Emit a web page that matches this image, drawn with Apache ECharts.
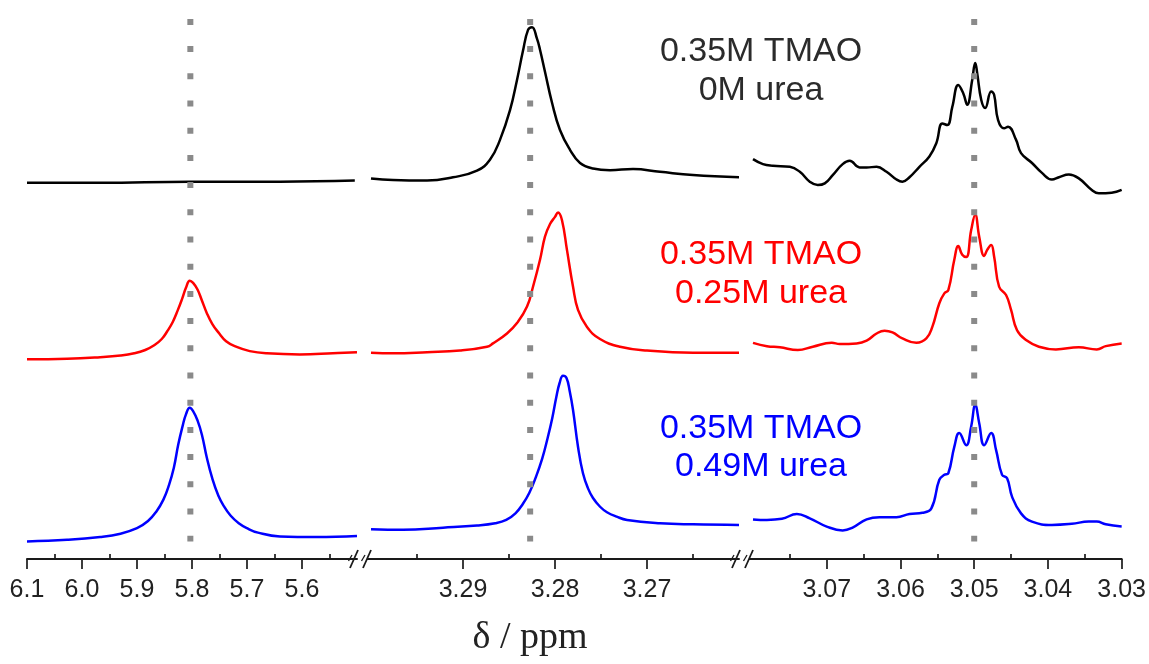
<!DOCTYPE html>
<html>
<head>
<meta charset="utf-8">
<title>TMAO / urea 1H NMR</title>
<script src="https://cdn.jsdelivr.net/npm/echarts@6/dist/echarts.min.js"></script>
<style>
  html, body { margin: 0; padding: 0; background: #ffffff; }
  #chart { width: 1149px; height: 664px; }
</style>
</head>
<body>
<div id="chart"></div>
<script>
// ---- chemical-shift panels (ppm, decreasing to the right) ----
const panelRanges = [[5.5, 6.1], [3.26, 3.30], [3.03, 3.08]];
const majorTicks = [
  [6.1, 6.0, 5.9, 5.8, 5.7, 5.6],
  [3.29, 3.28, 3.27],
  [3.07, 3.06, 3.05, 3.04, 3.03]
];
const minorTicks = [
  [6.05, 5.95, 5.85, 5.75, 5.65, 5.55],
  [3.295, 3.285, 3.275, 3.265],
  [3.075, 3.065, 3.055, 3.045, 3.035]
];
const tickDecimals = [1, 2, 2];
const referenceShifts = [5.803, 3.2827, 3.05];

// ---- spectra: [ppm, stacked intensity] ----
// 0.35M TMAO, 0M urea
const black1 = [[6.1, 68.4], [5.967, 68.4], [5.804, 68.6], [5.64, 68.6], [5.504, 68.8]];
const black2 = [[3.3, 69.2], [3.29761, 68.9], [3.29391, 68.8], [3.29109, 69.4], [3.28848, 70.6], [3.28707, 72.6],
  [3.28598, 76.2], [3.28489, 81.6], [3.28413, 87.1], [3.28348, 92.4], [3.28293, 96.2], [3.2825, 96.7],
  [3.28196, 94.6], [3.28163, 92.6], [3.28109, 88.6], [3.28033, 83.0], [3.27946, 78.0], [3.27837, 74.4],
  [3.27728, 72.0], [3.27587, 71.0], [3.27402, 70.7], [3.27152, 70.9], [3.26859, 70.4], [3.265, 69.8], [3.26, 69.4]];
const black3 = [[3.08, 72.7], [3.07865, 71.8], [3.0773, 71.5], [3.075, 71.3], [3.07365, 70.4], [3.0723, 68.6],
  [3.07122, 68.0], [3.07027, 68.3], [3.06919, 69.8], [3.06784, 71.8], [3.06689, 72.4], [3.06554, 71.2],
  [3.06459, 71.2], [3.06324, 71.3], [3.06189, 70.4], [3.06054, 69.0], [3.05973, 68.6], [3.05878, 69.4],
  [3.05743, 71.3], [3.05608, 73.2], [3.05514, 75.6], [3.05432, 79.2], [3.05365, 78.9], [3.05297, 82.2],
  [3.05216, 86.2], [3.05149, 84.7], [3.05095, 82.6], [3.05027, 87.1], [3.04986, 90.2], [3.04959, 88.3],
  [3.04905, 83.5], [3.04851, 82.0], [3.0477, 85.0], [3.0473, 84.4], [3.04676, 79.8], [3.04595, 78.3],
  [3.04541, 78.6], [3.04432, 76.2], [3.04365, 73.8], [3.04216, 72.0], [3.04081, 70.2], [3.03946, 69.0],
  [3.03851, 69.4], [3.03716, 69.9], [3.03581, 69.2], [3.03405, 67.1], [3.03311, 66.5], [3.03135, 66.6], [3.03, 67.1]];

// 0.35M TMAO, 0.25M urea
const red1 = [[6.1, 36.3], [6.027, 36.4], [5.967, 36.7], [5.93, 37.0], [5.905, 37.4], [5.885, 38.0],
  [5.868, 38.9], [5.855, 40.0], [5.845, 41.4], [5.835, 43.1], [5.826, 45.2], [5.818, 47.3], [5.811, 49.3],
  [5.804, 50.6], [5.798, 50.2], [5.79, 49.0], [5.782, 47.0], [5.773, 44.7], [5.763, 42.7], [5.752, 41.2],
  [5.738, 39.6], [5.72, 38.6], [5.695, 37.8], [5.664, 37.4], [5.604, 37.2], [5.544, 37.4], [5.5, 37.6]];
const red2 = [[3.3, 37.5], [3.29761, 37.4], [3.29391, 37.6], [3.29033, 37.9], [3.28739, 38.6], [3.28674, 39.2],
  [3.28522, 41.0], [3.28413, 42.9], [3.28304, 45.9], [3.28239, 49.5], [3.28163, 54.4], [3.28109, 58.6],
  [3.28054, 60.9], [3.28, 62.2], [3.27967, 63.0], [3.27924, 61.6], [3.2787, 56.2], [3.27804, 49.5],
  [3.2775, 45.3], [3.27652, 42.2], [3.27511, 40.0], [3.27293, 38.6], [3.27, 37.9], [3.265, 37.5], [3.26, 37.5]];
const red3 = [[3.08, 39.3], [3.07811, 38.7], [3.07635, 38.5], [3.07392, 38.0], [3.07189, 38.6], [3.06932, 39.3],
  [3.06824, 39.1], [3.06595, 39.2], [3.06459, 39.7], [3.06324, 41.0], [3.06216, 41.5], [3.06108, 41.2],
  [3.05973, 40.1], [3.05784, 39.3], [3.05649, 40.1], [3.05568, 42.2], [3.05473, 46.5], [3.05405, 48.3],
  [3.05351, 48.9], [3.0527, 54.4], [3.05216, 56.9], [3.05162, 55.3], [3.05108, 54.9], [3.05041, 59.8],
  [3.04986, 62.6], [3.04932, 58.6], [3.04865, 55.1], [3.04824, 56.2], [3.0477, 57.1], [3.0473, 55.0],
  [3.04662, 49.5], [3.04568, 48.0], [3.045, 45.3], [3.04419, 41.6], [3.04297, 39.8], [3.04122, 38.6],
  [3.03892, 38.1], [3.03581, 38.5], [3.03338, 38.1], [3.03216, 38.7], [3.03, 39.2]];

// 0.35M TMAO, 0.49M urea
const blue1 = [[6.1, 3.2], [6.027, 3.5], [5.967, 4.0], [5.93, 4.6], [5.9, 5.6], [5.88, 6.9], [5.865, 8.6],
  [5.852, 10.8], [5.842, 13.4], [5.833, 16.6], [5.825, 20.8], [5.817, 24.2], [5.811, 26.3], [5.804, 27.5],
  [5.798, 26.9], [5.79, 25.2], [5.782, 22.6], [5.773, 18.4], [5.763, 14.6], [5.752, 11.5], [5.742, 9.6],
  [5.73, 7.9], [5.715, 6.5], [5.7, 5.6], [5.68, 4.8], [5.64, 4.1], [5.573, 4.0], [5.5, 4.2]];
const blue2 = [[3.3, 5.4], [3.29652, 5.3], [3.29217, 5.7], [3.28848, 6.1], [3.2865, 6.5], [3.2853, 7.1],
  [3.2843, 8.3], [3.2835, 10.0], [3.2828, 12.0], [3.2821, 14.8], [3.2814, 18.2], [3.2808, 22.0],
  [3.2803, 25.6], [3.27985, 29.5], [3.2795, 32.0], [3.27913, 33.3], [3.27875, 32.9], [3.2784, 30.5],
  [3.27804, 27.1], [3.2775, 20.4], [3.27696, 15.6], [3.2764, 12.8], [3.27587, 11.1], [3.2751, 9.5],
  [3.27435, 8.5], [3.2733, 7.7], [3.27217, 7.1], [3.26859, 6.5], [3.265, 6.3], [3.26, 6.2]];
const blue3 = [[3.08, 7.2], [3.07811, 7.1], [3.07608, 7.3], [3.07405, 8.2], [3.0723, 7.4], [3.07, 5.9],
  [3.06784, 5.2], [3.06649, 5.7], [3.06459, 7.2], [3.06284, 7.6], [3.06054, 7.6], [3.05878, 8.2],
  [3.05703, 8.4], [3.05581, 9.2], [3.05473, 14.4], [3.05405, 15.3], [3.05351, 15.6], [3.0527, 20.4],
  [3.05203, 22.9], [3.05108, 20.7], [3.05041, 24.1], [3.04986, 28.0], [3.04932, 24.7], [3.04865, 20.7],
  [3.0477, 22.9], [3.04703, 19.8], [3.04622, 15.3], [3.04554, 14.7], [3.04486, 11.3], [3.04365, 8.3],
  [3.04216, 6.8], [3.03946, 6.2], [3.03676, 6.4], [3.03446, 6.8], [3.03338, 6.8], [3.03216, 6.3], [3.03, 5.9]];

const traceNames = ['0.35M TMAO / 0M urea', '0.35M TMAO / 0.25M urea', '0.35M TMAO / 0.49M urea'];
const traceColors = ['#000000', '#ff0000', '#0000ff'];
const traceData = [[black1, black2, black3], [red1, red2, red3], [blue1, blue2, blue3]];
const labelLines = [['0.35M TMAO', '0M urea'], ['0.35M TMAO', '0.25M urea'], ['0.35M TMAO', '0.49M urea']];
const labelTextColors = ['#2b2b2b', '#ff0000', '#0000ff'];
const axisTitle = 'δ / ppm';

// ---- layout ----
const SANS = '"Liberation Sans", Arial, Helvetica, sans-serif';
const SERIF = '"Liberation Serif", "Times New Roman", serif';
const gridBoxes = [
  { left: 27, width: 330 },
  { left: 371, width: 368 },
  { left: 753, width: 370 }
];
const dotSpan = [98.2, 3.2];   // vertical extent of the dotted reference lines (y units)

const chart = echarts.init(document.getElementById('chart'), null, { renderer: 'canvas' });

const grids = gridBoxes.map(b => ({ left: b.left, width: b.width, top: 9, bottom: 105, containLabel: false }));

const axisColor = '#1a1a1a';
const xAxes = [];
panelRanges.forEach((r, i) => {
  xAxes.push({
    type: 'value', gridIndex: i, min: r[0], max: r[1], inverse: true,
    axisLine: { show: true, onZero: false, lineStyle: { color: axisColor, width: 2 } },
    axisTick: { show: true, inside: false, length: 10, customValues: majorTicks[i],
      lineStyle: { color: axisColor, width: 1.7 } },
    axisLabel: { show: true, customValues: majorTicks[i], margin: 19,
      formatter: v => Number(v).toFixed(tickDecimals[i]),
      fontFamily: SANS, fontSize: 25, color: '#222222' },
    splitLine: { show: false }
  });
});
panelRanges.forEach((r, i) => {
  xAxes.push({
    type: 'value', gridIndex: i, min: r[0], max: r[1], inverse: true,
    axisLine: { show: false },
    axisTick: { show: true, inside: false, length: 5, customValues: minorTicks[i],
      lineStyle: { color: axisColor, width: 1.7 } },
    axisLabel: { show: false },
    splitLine: { show: false }
  });
});

const yAxes = panelRanges.map((r, i) => ({ type: 'value', gridIndex: i, min: 0, max: 100, show: false }));

const series = [];
traceData.forEach((panels, t) => {
  panels.forEach((pts, p) => {
    series.push({
      name: traceNames[t], type: 'line', xAxisIndex: p, yAxisIndex: p,
      data: pts, showSymbol: false, smooth: 0.45, z: 3,
      lineStyle: { color: traceColors[t], width: 2.5, join: 'round' },
      itemStyle: { color: traceColors[t] }, silent: true
    });
  });
});
referenceShifts.forEach((ppm, p) => {
  series.push({
    name: 'ref' + p, type: 'line', xAxisIndex: p, yAxisIndex: p,
    data: [[ppm, dotSpan[0]], [ppm, dotSpan[1]]], showSymbol: false, z: 6, silent: true,
    lineStyle: { color: '#8a8a8a', width: 6, type: [6, 21.2], cap: 'butt' }
  });
});

chart.setOption({
  animation: false,
  backgroundColor: '#ffffff',
  grid: grids,
  xAxis: xAxes,
  yAxis: yAxes,
  series: series
});

// ---- annotations, axis breaks and axis title ----
function px(axisIdx, v) { return chart.convertToPixel({ xAxisIndex: axisIdx }, v); }
function py(axisIdx, v) { return chart.convertToPixel({ yAxisIndex: axisIdx }, v); }

const graphics = [];
const axisY = py(0, 0);
const lineStroke = { stroke: axisColor, lineWidth: 2 };

// break marks between neighbouring panels
for (let i = 0; i < 2; i++) {
  const endA = px(i, panelRanges[i][0]);
  const startB = px(i + 1, panelRanges[i + 1][1]);
  const s1 = endA - 3, s2 = startB - 4;
  [s1, s2].forEach(s => {
    graphics.push({ type: 'line', silent: true, z: 10,
      shape: { x1: s - 4, y1: axisY + 9, x2: s + 4, y2: axisY - 9 }, style: { stroke: axisColor, lineWidth: 1.8 } });
    graphics.push({ type: 'line', silent: true, z: 10,
      shape: { x1: s - 5.5, y1: axisY + 2, x2: s - 2, y2: axisY - 4 }, style: { stroke: axisColor, lineWidth: 1.3 } });
  });
  graphics.push({ type: 'line', silent: true, z: 10,
    shape: { x1: s2, y1: axisY, x2: startB, y2: axisY }, style: lineStroke });
}

// trace labels, centred over the right-hand panel
const labelCenterX = 761;
const labelRows = [[52, 91], [255, 294], [429, 467]];
labelLines.forEach((lines, t) => {
  lines.forEach((txt, k) => {
    graphics.push({ type: 'text', silent: true, z: 12, x: labelCenterX, y: labelRows[t][k],
      style: { text: txt, fill: labelTextColors[t], font: '34px ' + SANS,
        align: 'center', verticalAlign: 'middle', textAlign: 'center', textVerticalAlign: 'middle' } });
  });
});

graphics.push({ type: 'text', silent: true, z: 12, x: 530, y: 638,
  style: { text: axisTitle, fill: '#222222', font: '38px ' + SERIF,
    align: 'center', verticalAlign: 'middle', textAlign: 'center', textVerticalAlign: 'middle' } });

chart.setOption({ graphic: { elements: graphics } });
</script>
</body>
</html>
